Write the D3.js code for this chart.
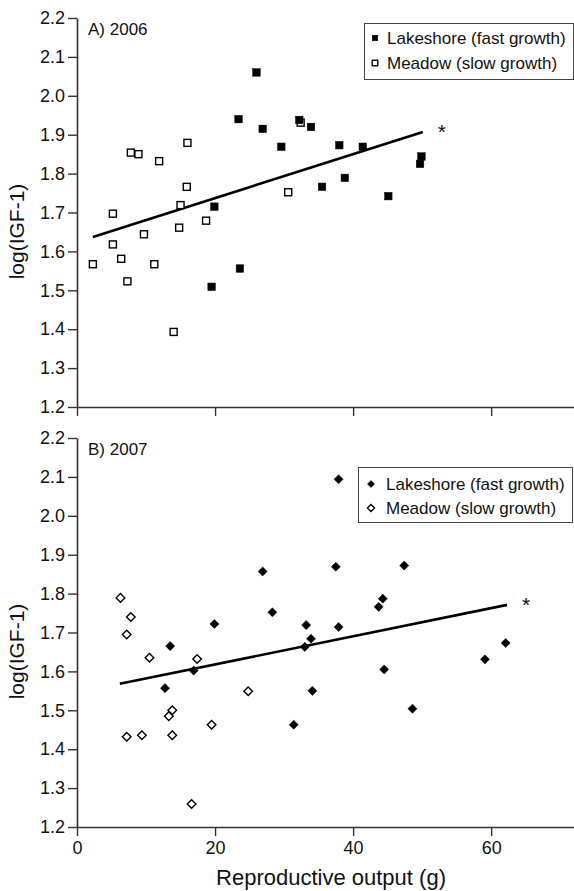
<!DOCTYPE html>
<html>
<head>
<meta charset="utf-8">
<script src="https://cdn.jsdelivr.net/npm/d3@7"></script>
<style>
  html, body { margin: 0; padding: 0; background: #fff; }
  svg { display: block; font-family: "Liberation Sans", Arial, Helvetica, sans-serif; }
</style>
</head>
<body>
<svg id="chart" width="574" height="891"></svg>
<script>
// ---------- Data ----------
const panelTitles = ["A) 2006", "B) 2007"];
const seriesNames = ["Lakeshore (fast growth)", "Meadow (slow growth)"];
const yTicks = [1.2, 1.3, 1.4, 1.5, 1.6, 1.7, 1.8, 1.9, 2.0, 2.1, 2.2];
const xTicks = [0, 20, 40, 60];
const yLabel = "log(IGF-1)";
const xLabel = "Reproductive output (g)";

// 2006
const lake2006X = [19.5, 19.9, 23.4, 23.6, 26.0, 26.9, 29.6, 32.2, 33.9, 35.5, 38.0, 38.8, 41.4, 45.1, 49.7, 49.9];
const lake2006Y = [1.509, 1.715, 1.940, 1.556, 2.060, 1.915, 1.869, 1.938, 1.920, 1.766, 1.873, 1.789, 1.869, 1.742, 1.825, 1.844];
const meadow2006X = [2.3, 5.2, 5.2, 6.4, 7.3, 7.8, 8.9, 9.7, 11.2, 11.9, 14.0, 14.8, 15.0, 15.9, 16.0, 18.7, 30.6, 32.4];
const meadow2006Y = [1.567, 1.697, 1.618, 1.581, 1.523, 1.854, 1.850, 1.644, 1.567, 1.832, 1.393, 1.661, 1.719, 1.766, 1.879, 1.679, 1.752, 1.931];
const fit2006X = [2.3, 50.1];
const fit2006Y = [1.637, 1.907];

// 2007
const lake2007X = [12.75, 13.5, 16.9, 19.9, 26.9, 28.3, 31.4, 33.0, 33.2, 33.9, 34.1, 37.5, 37.9, 37.9, 43.7, 44.3, 44.5, 47.4, 48.6, 59.1, 62.1];
const lake2007Y = [1.557, 1.665, 1.602, 1.722, 1.857, 1.752, 1.463, 1.663, 1.719, 1.684, 1.550, 1.869, 2.094, 1.714, 1.766, 1.787, 1.605, 1.872, 1.504, 1.631, 1.673];
const meadow2007X = [6.3, 7.2, 7.2, 7.8, 9.4, 10.5, 13.3, 13.8, 13.8, 16.6, 17.4, 19.5, 24.8];
const meadow2007Y = [1.789, 1.695, 1.432, 1.740, 1.436, 1.635, 1.485, 1.500, 1.436, 1.259, 1.632, 1.463, 1.549];
const fit2007X = [6.2, 62.3];
const fit2007Y = [1.568, 1.771];

// ---------- Build ----------
const svg = d3.select("#chart");
const x = d3.scaleLinear().domain([0, 72]).range([77, 574]);

const panels = [
  { title: panelTitles[0], top: 18, bottom: 407, shape: "square", showXLabels: false,
    lakeX: lake2006X, lakeY: lake2006Y, meadowX: meadow2006X, meadowY: meadow2006Y,
    fitX: fit2006X, fitY: fit2006Y,
    legend: { x0: 364, y0: 23, w: 210, h: 56, mx: 375, tx: 387, rows: [38, 63] } },
  { title: panelTitles[1], top: 438, bottom: 827, shape: "diamond", showXLabels: true,
    lakeX: lake2007X, lakeY: lake2007Y, meadowX: meadow2007X, meadowY: meadow2007Y,
    fitX: fit2007X, fitY: fit2007Y,
    legend: { x0: 358, y0: 467, w: 215, h: 55, mx: 371, tx: 386, rows: [484, 508] } }
];

const axisColor = "#333";

function drawMarker(g, shape, filled, cx, cy, size) {
  if (shape === "square") {
    const s = size;
    g.append("rect")
      .attr("x", cx - s / 2).attr("y", cy - s / 2)
      .attr("width", s).attr("height", s)
      .attr("fill", filled ? "#000" : "#fff")
      .attr("stroke", "#000").attr("stroke-width", filled ? 0.5 : 1.4);
  } else {
    const r = size / 2 + 0.8;
    g.append("path")
      .attr("d", `M${cx},${cy - r}L${cx + r},${cy}L${cx},${cy + r}L${cx - r},${cy}Z`)
      .attr("fill", filled ? "#000" : "#fff")
      .attr("stroke", "#000").attr("stroke-width", filled ? 0.5 : 1.4);
  }
}

panels.forEach(p => {
  const y = d3.scaleLinear().domain([1.2, 2.2]).range([p.bottom, p.top]);
  const g = svg.append("g");

  // Y axis
  const yAxis = d3.axisLeft(y).tickValues(yTicks).tickFormat(d3.format(".1f")).tickSize(9).tickPadding(3).tickSizeOuter(0);
  const ya = g.append("g").attr("transform", `translate(${x(0)},0)`).call(yAxis);
  ya.select(".domain").attr("stroke", axisColor).attr("stroke-width", 1.6);
  ya.selectAll(".tick line").attr("stroke", axisColor).attr("stroke-width", 1.4);
  ya.selectAll(".tick text").attr("font-size", 18).attr("fill", "#111")
    .attr("font-family", "'Liberation Sans', Arial, sans-serif");

  // X axis
  const xAxis = d3.axisBottom(x).tickValues(xTicks).tickSize(9).tickPadding(5).tickSizeOuter(0);
  if (!p.showXLabels) xAxis.tickFormat("");
  const xa = g.append("g").attr("transform", `translate(0,${p.bottom})`).call(xAxis);
  xa.select(".domain").attr("stroke", axisColor).attr("stroke-width", 1.6);
  xa.selectAll(".tick line").attr("stroke", axisColor).attr("stroke-width", 1.4);
  xa.selectAll(".tick text").attr("font-size", 18).attr("fill", "#111")
    .attr("font-family", "'Liberation Sans', Arial, sans-serif");

  // Y label
  g.append("text")
    .attr("transform", `translate(24,${(p.top + p.bottom) / 2 + 19}) rotate(-90)`)
    .attr("text-anchor", "middle").attr("font-size", 21).attr("fill", "#111")
    .text(yLabel);

  // Panel title
  g.append("text").attr("x", 88).attr("y", p.top + 17)
    .attr("font-size", 17).attr("fill", "#111").text(p.title);

  // Regression line
  const fit = p.fitX.map((v, i) => [v, p.fitY[i]]);
  g.append("path")
    .attr("d", d3.line().x(d => x(d[0])).y(d => y(d[1]))(fit))
    .attr("stroke", "#000").attr("stroke-width", 2.6).attr("fill", "none");
  g.append("text")
    .attr("x", x(p.fitX[1]) + 15).attr("y", y(p.fitY[1]) + 7)
    .attr("font-size", 21).attr("fill", "#111").text("*");

  // Points: meadow (open)
  const pts = g.append("g");
  p.meadowX.forEach((v, i) => drawMarker(pts, p.shape, false, x(v), y(p.meadowY[i]), 7));
  // Points: lakeshore (filled)
  p.lakeX.forEach((v, i) => drawMarker(pts, p.shape, true, x(v), y(p.lakeY[i]), 7.5));

  // Legend
  const L = p.legend;
  const lg = g.append("g");
  lg.append("rect").attr("x", L.x0 + 0.5).attr("y", L.y0 + 0.5)
    .attr("width", L.w - 1).attr("height", L.h)
    .attr("fill", "#fff").attr("stroke", "#444").attr("stroke-width", 1);
  seriesNames.forEach((name, i) => {
    drawMarker(lg, p.shape, i === 0, L.mx, L.rows[i], 5.5);
    lg.append("text").attr("x", L.tx).attr("y", L.rows[i] + 6)
      .attr("font-size", 17).attr("fill", "#111").text(name);
  });
});

// X axis title
svg.append("text").attr("x", 331).attr("y", 885)
  .attr("text-anchor", "middle").attr("font-size", 22).attr("fill", "#111")
  .text(xLabel);
</script>
</body>
</html>
